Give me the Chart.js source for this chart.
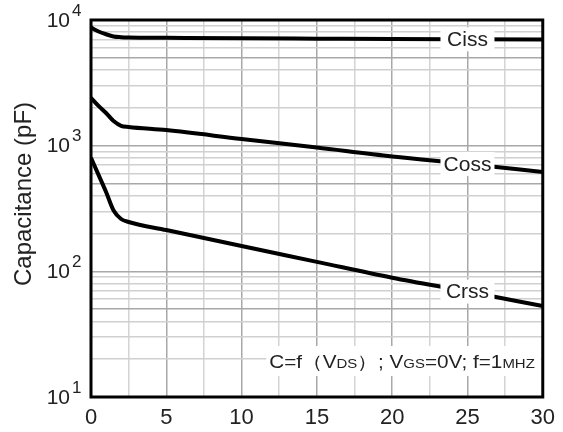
<!DOCTYPE html>
<html>
<head>
<meta charset="utf-8">
<script src="https://cdn.jsdelivr.net/npm/chart.js@4.4.0/dist/chart.umd.min.js"></script>
<style>
  body { margin: 0; background: #fff; }
</style>
</head>
<body>
<canvas id="cap" width="563" height="432"></canvas>
<script>
// drain-source voltage (V)
const vds = [0, 0.5, 1, 1.5, 2, 2.5, 5, 10, 15, 20, 25, 30];
// capacitances in pF
const ciss = [8700, 8100, 7700, 7400, 7300, 7260, 7220, 7150, 7100, 7050, 7020, 7000];
const coss = [2400, 2070, 1820, 1570, 1440, 1410, 1330, 1130, 965, 820, 716, 618];
const crss = [800, 585, 428, 305, 261, 247, 213, 159, 119, 89, 69, 53];

const seriesNames = ["Ciss", "Coss", "Crss"];
const xTicks = [0, 2.5, 5, 7.5, 10, 12.5, 15, 17.5, 20, 22.5, 25, 27.5, 30];
const yDecades = [10, 100, 1000, 10000];
const labelAt = 25;

function pts(ys) {
  return vds.map((v, i) => ({ x: v, y: ys[i] }));
}

function lineSet(name, ys) {
  return {
    label: name,
    data: pts(ys),
    borderColor: "#000",
    borderWidth: 4,
    pointRadius: 0,
    cubicInterpolationMode: "monotone",
    fill: false
  };
}

const FONT = "Liberation Sans, Arial, sans-serif";
const INK = "#222";

const decor = {
  id: "decor",
  afterDatasetsDraw(chart) {
    const ctx = chart.ctx;
    const xs = chart.scales.x, ys = chart.scales.y;
    const area = chart.chartArea;
    ctx.save();

    // curve names sitting on the lines
    ctx.font = "21px " + FONT;
    ctx.textAlign = "center";
    ctx.textBaseline = "middle";
    [ciss, coss, crss].forEach((arr, i) => {
      const px = xs.getPixelForValue(labelAt);
      const py = ys.getPixelForValue(arr[vds.indexOf(labelAt)]);
      ctx.fillStyle = "#fff";
      ctx.fillRect(px - 27, py - 12, 54, 24);
      ctx.fillStyle = INK;
      ctx.fillText(seriesNames[i], px, py + 1);
    });

    // test condition note (slightly stretched lettering)
    const parts = [
      ["C=f（V", 18], ["DS", 13], ["）; V", 18], ["GS", 13],
      ["=0V; f=1", 18], ["MHZ", 13]
    ];
    const sx = 1.15;
    let w = 0;
    parts.forEach(p => { ctx.font = p[1] + "px " + FONT; w += ctx.measureText(p[0]).width * sx; });
    const right = area.right - 2;
    const bx = right - w - 6;
    ctx.fillStyle = "#fff";
    ctx.fillRect(bx - 3, 346, right - bx + 3, 30);
    ctx.fillStyle = INK;
    ctx.textAlign = "left";
    ctx.textBaseline = "alphabetic";
    ctx.save();
    ctx.translate(bx, 368);
    ctx.scale(sx, 1);
    let tx = 0;
    parts.forEach(p => {
      ctx.font = p[1] + "px " + FONT;
      ctx.fillText(p[0], tx, 0);
      tx += ctx.measureText(p[0]).width;
    });
    ctx.restore();

    // y tick labels as powers of ten
    yDecades.forEach(v => {
      const py = ys.getPixelForValue(v);
      const exp = String(Math.round(Math.log10(v)));
      ctx.font = "21px " + FONT;
      ctx.textAlign = "right";
      ctx.textBaseline = "middle";
      ctx.fillStyle = INK;
      ctx.fillText("10", 70, py + 1);
      ctx.font = "17px " + FONT;
      ctx.textAlign = "left";
      ctx.fillText(exp, 72, py - 9);
    });

    // axis title
    ctx.save();
    ctx.translate(24, 194);
    ctx.rotate(-Math.PI / 2);
    ctx.font = "24px " + FONT;
    ctx.textAlign = "center";
    ctx.textBaseline = "middle";
    ctx.fillStyle = INK;
    ctx.fillText("Capacitance (pF)", 0, 0);
    ctx.restore();

    // frame
    ctx.strokeStyle = "#000";
    ctx.lineWidth = 3;
    ctx.strokeRect(area.left, area.top, area.right - area.left, area.bottom - area.top);
    ctx.restore();
  }
};

new Chart(document.getElementById("cap"), {
  type: "line",
  data: {
    datasets: [lineSet("Ciss", ciss), lineSet("Coss", coss), lineSet("Crss", crss)]
  },
  options: {
    responsive: false,
    animation: false,
    layout: { padding: { top: 20, right: 20, left: 0, bottom: 0 } },
    plugins: { legend: { display: false }, tooltip: { enabled: false } },
    scales: {
      x: {
        type: "linear",
        min: 0,
        max: 30,
        afterBuildTicks: s => { s.ticks = xTicks.map(v => ({ value: v })); },
        afterFit: s => { s.height = 35; },
        border: { display: false },
        grid: {
          drawTicks: false,
          color: c => (c.tick && c.tick.value % 5 === 0 ? "#a8a8a8" : "#d4d4d4"),
          lineWidth: 1.5
        },
        ticks: {
          padding: 8,
          color: INK,
          font: { family: FONT, size: 22 },
          maxRotation: 0,
          autoSkip: false,
          callback: v => (v % 5 === 0 ? String(v) : "")
        }
      },
      y: {
        type: "logarithmic",
        min: 10,
        max: 10000,
        afterBuildTicks: s => {
          const t = [];
          for (let d = 10; d < 10000; d *= 10) {
            for (let k = 1; k < 10; k++) t.push({ value: d * k });
          }
          t.push({ value: 10000 });
          s.ticks = t;
        },
        afterFit: s => { s.width = 91; },
        border: { display: false },
        grid: {
          drawTicks: false,
          color: c => {
            const v = c.tick ? c.tick.value : 0;
            const m = v / Math.pow(10, Math.floor(Math.log10(v) + 1e-9));
            return Math.abs(m - 1) < 1e-6 || Math.abs(m - 5) < 1e-6 ? "#a8a8a8" : "#d0d0d0";
          },
          lineWidth: 1.5
        },
        ticks: { display: false }
      }
    }
  },
  plugins: [decor]
});
</script>
</body>
</html>
